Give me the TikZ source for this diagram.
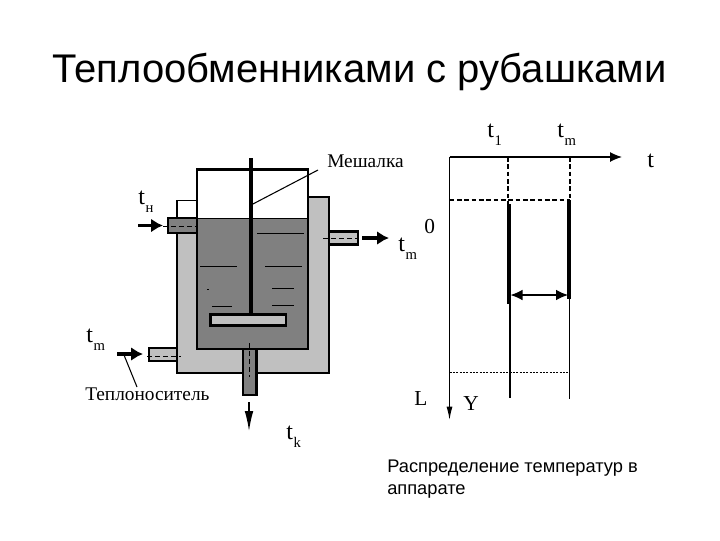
\documentclass[tikz,border=0pt]{standalone}
\usepackage{fontspec}
\setmainfont{Liberation Serif}
\newfontfamily\arialfont{Liberation Sans}
\usepackage{xcolor}
\usetikzlibrary{arrows.meta}
\definecolor{liquid}{HTML}{808080}
\definecolor{jacket}{HTML}{C0C0C0}
\definecolor{ink}{HTML}{000000}
\newcommand{\tsub}[2]{{\fontsize{18}{18}\selectfont #1}\kern0.6pt\raisebox{-6pt}{\fontsize{11}{11}\selectfont #2}}
\tikzset{
  wall/.style={draw=ink, line width=2.2pt, line join=miter},
  thin/.style={draw=ink, line width=0.8pt},
  wave/.style={draw=ink, line width=0.75pt},
  axis/.style={draw=ink, line width=0.9pt},
  flow/.style={draw=ink, line width=2.6pt, -{Latex[length=9pt,width=10.5pt]}},
  centre/.style={draw=ink, line width=0.6pt, dash pattern=on 4pt off 2pt},
  help/.style={draw=ink, line width=0.85pt, dash pattern=on 3.5pt off 2pt},
  lab/.style={text=ink, font=\fontsize{16}{16}\selectfont, inner sep=0pt, anchor=base west},
  word/.style={text=ink, font=\fontsize{14.5}{15}\selectfont, inner sep=0pt, anchor=base west}
}
\begin{document}
\begin{tikzpicture}[x=0.75pt,y=-0.75pt]
  \useasboundingbox (0,0) rectangle (720,540);
  \node[anchor=base west, inner sep=0pt, font=\arialfont\fontsize{30}{30}\selectfont] (title) at (52,82.5) {Теплообменниками с рубашками};

  % jacket
  \fill[jacket] (177,232) rectangle (329,373);
  \fill[jacket] (308,197) rectangle (329,232);
  \draw[wall] (177,232) -- (177,373) -- (329,373) -- (329,197) -- (308,197);
  \draw[thin] (177,218) -- (177,200.5) -- (197,200.5);

  % nozzles
  \draw[wall, fill=liquid] (168,218) rectangle (197,233);
  \draw[wall, fill=jacket] (329,231.5) rectangle (358,244.5);
  \draw[wall, fill=jacket, line width=1.6pt] (149,348) rectangle (177,361);

  % vessel
  \fill[liquid] (197,218.5) rectangle (308,349);
  \draw[wall] (197,218.5) -- (197,169.5) -- (308,169.5) -- (308,349) -- (197,349) -- cycle;
  \draw[thin] (197,218.5) -- (308,218.5);
  \draw[wall, fill=liquid, line width=1.6pt] (243,349) rectangle (256.5,395);

  % liquid marks
  \foreach \xa/\xb/\yy in {257/304/233, 200/237/266, 265/302/266, 272/294/288, 272/294/305, 212/232/306, 207/209/289}
    \draw[wave] (\xa,\yy) -- (\xb,\yy);

  % stirrer
  \draw[draw=ink, line width=3.4pt] (251,158) -- (251,314);
  \draw[wall, fill=jacket] (210.5,314.5) rectangle (286,325.5);
  \coordinate (shaft) at (251,205);
  \coordinate (tip) at (318,170);
  \draw[thin] (shaft) -- (tip);

  % centre lines
  \draw[centre] (163,226) -- (197,226);
  \draw[centre] (323,238) -- (358,238);
  \draw[centre] (147,356) -- (181,356);
  \draw[centre] (249.5,343) -- (249.5,377);

  % flows
  \draw[flow] (138,225.5) -- (163,225.5);
  \draw[flow] (362,238) -- (389,238);
  \draw[flow] (117,354) -- (143,354);
  \draw[draw=ink, line width=1pt, -{Latex[length=15pt,width=6.5pt]}] (249,402) -- (249,431);

  % labels of vessel
  \node[word] (mix) at (327,167) {Мешалка};
  \node[word] (carrier) at (85,400) {Теплоноситель};
  \coordinate (carrierEnd) at (137,387);
  \coordinate (carrierStart) at (124,355);
  \draw[thin] (carrierStart) -- (carrierEnd);
  \node[lab] (tn) at (138,204) {\tsub{t}{н}};
  \node[lab] (tmout) at (398,251) {\tsub{t}{m}};
  \node[lab] (tmin) at (86,342) {\tsub{t}{m}};
  \node[lab] (tk) at (286,439) {\tsub{t}{k}};

  % temperature chart
  \coordinate (O) at (449.5,157);
  \coordinate (tEnd) at (622,157);
  \coordinate (lEnd) at (449.5,420);
  \draw[axis, -{Latex[length=9pt,width=7.5pt]}] (O) -- (tEnd);
  \draw[axis, -{Latex[length=10pt,width=4.5pt]}] (O) -- (lEnd);
  \draw[help] (508,157) -- (508,204);
  \draw[help] (570,157) -- (570,200);
  \draw[help] (449.5,200) -- (570,200);
  \draw[thin] (510,204) -- (510,398);
  \draw[thin] (569.5,200) -- (569.5,399);
  \draw[draw=ink, line width=2.8pt] (509,204) -- (509,304);
  \draw[draw=ink, line width=2.8pt] (569,200) -- (569,299);
  \draw[axis, {Latex[length=9pt,width=8pt]}-{Latex[length=9pt,width=8pt]}] (510.5,295) -- (568,295);
  \draw[draw=ink, line width=1.1pt, dash pattern=on 1.5pt off 1pt] (449.5,372.5) -- (568,372.5);

  \node[lab] (tone) at (487,137) {\tsub{t}{1}};
  \node[lab] (tm) at (557,137) {\tsub{t}{m}};
  \node[lab, font=\fontsize{18}{18}\selectfont] (tlab) at (647,167) {t};
  \node[lab] (zero) at (424,233) {0};
  \node[lab] (llab) at (414,405) {L};
  \node[lab] (ylab) at (463,410) {Y};

  \node[anchor=base west, inner sep=0pt, font=\arialfont\fontsize{13.7}{15.8}\selectfont, align=left] (note) at (387,494) {Распределение температур в\\аппарате};
\end{tikzpicture}
\end{document}
